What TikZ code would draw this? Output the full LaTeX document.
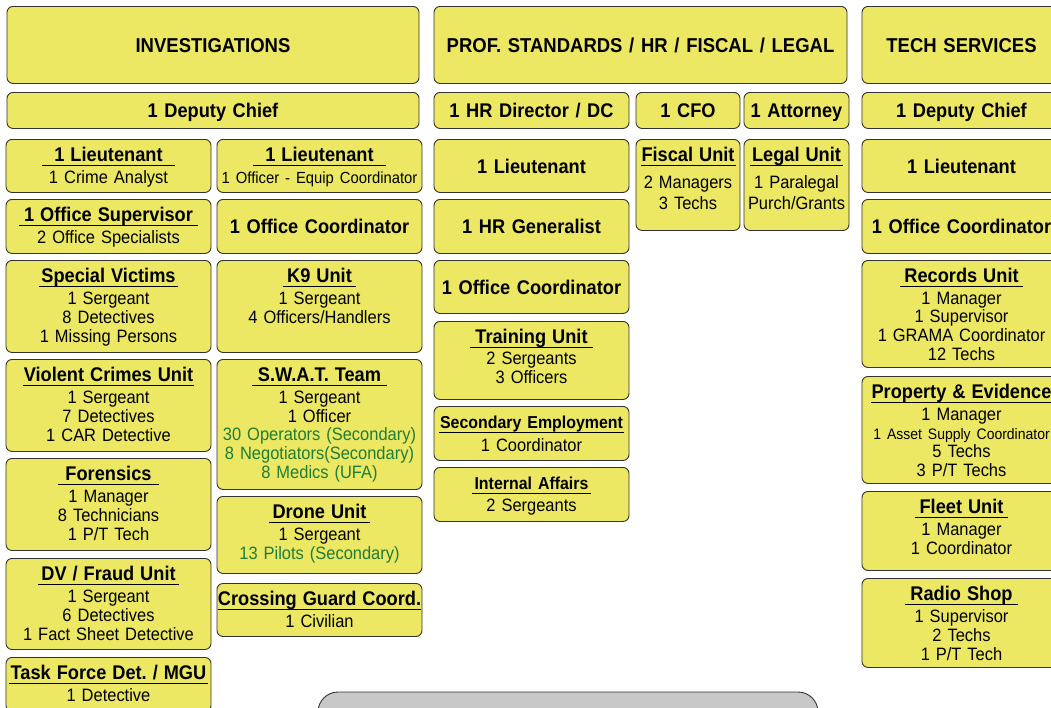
\documentclass[tikz,border=0pt]{standalone}
\usepackage{fontspec}
\setmainfont{Liberation Sans}[FakeStretch=0.92, WordSpace=0.9]

\definecolor{unitfill}{RGB}{236,232,100}
\definecolor{unitline}{RGB}{50,50,50}
\definecolor{unitgreen}{RGB}{30,125,55}
\definecolor{legendfill}{RGB}{200,200,200}

\newcommand{\bodyfont}{\fontsize{17.9}{18.8}\selectfont}
\newcommand{\headfont}{\fontsize{19.8}{20}\selectfont\bfseries}
\newcommand{\titlefont}{\fontsize{20.1}{22}\selectfont\bfseries}
\newcommand{\smallhead}{\fontsize{17.3}{18}\selectfont}
% underlined unit heading, #1 = overhang of the rule
\newcommand{\hdr}[2][2]{\leavevmode\setbox0\hbox{\hspace{#1pt}\headfont #2\hspace{#1pt}}%
  \rlap{\raisebox{-5pt}{\rule{\wd0}{1.8pt}}}\box0}

\tikzset{
  unit/.style={draw=unitline, fill=unitfill, line width=0.9pt, rounded corners=6pt,
    inner xsep=0pt, inner ysep=0pt, align=center, anchor=north, font=\bodyfont},
  deptbox/.style 2 args={unit, text width=#1pt, minimum height=#2pt, font=\titlefont,
    text height=14.4pt, text depth=0pt},
  postbox/.style 2 args={unit, text width=#1pt, minimum height=#2pt, font=\headfont,
    text height=14.2pt, text depth=0pt},
  unitbox/.style 2 args={unit, text width=#1pt, text height=22pt,
    /utils/exec={\pgfmathsetmacro\unitdp{#2-22}}, text depth=\unitdp pt},
}

\begin{document}
\frenchspacing
\begin{tikzpicture}[x=1pt, y=-1pt]
    \useasboundingbox (0,0) rectangle (1051,707);
    \fill[white] (0,0) rectangle (1051,707);
    \clip (0,0) rectangle (1051,707);

    % Divisions
    \node[deptbox={412}{77}] (inv) at (213,6) {INVESTIGATIONS};
    \node[deptbox={413}{77}] (prof) at (640.5,6) {PROF. STANDARDS / HR / FISCAL / LEGAL};
    \node[deptbox={199}{77}] (tech) at (961.5,6) {TECH SERVICES};

    % Command staff
    \node[postbox={412}{36}] (invdc) at (213,92) {1 Deputy Chief};
    \node[postbox={195}{36}] (hrdc) at (531.5,92) {1 HR Director / DC};
    \node[postbox={104}{36}] (cfo) at (688,92) {1 CFO};
    \node[postbox={105}{36}] (atty) at (796.5,92) {1 Attorney};
    \node[postbox={199}{36}] (techdc) at (961.5,92) {1 Deputy Chief};

    % Investigations units
    \node[unitbox={205}{53}] (invltA) at (108.5,139) {\hdr[12]{1 Lieutenant}\\[3.7pt]1 Crime Analyst};
    \node[unitbox={205}{53}] (invltB) at (319.5,139)
        {\hdr[12]{1 Lieutenant}\\[3.7pt]\mbox{\fontsize{16.1}{18.8}\selectfont 1 Officer - Equip Coordinator}};
    \node[unitbox={205}{54}] (offsup) at (108.5,199) {\hdr[5]{1 Office Supervisor}\\[3.7pt]2 Office Specialists};
    \node[postbox={205}{54}] (invoc) at (319.5,199) {1 Office Coordinator};
    \node[unitbox={205}{92}] (svu) at (108.5,260)
        {\hdr{Special Victims}\\[3.7pt]1 Sergeant\\8 Detectives\\1 Missing Persons};
    \node[unitbox={205}{92}] (k9) at (319.5,260) {\hdr[4.5]{K9 Unit}\\[3.7pt]1 Sergeant\\4 Officers/Handlers};
    \node[unitbox={205}{92}] (vcu) at (108.5,359)
        {\hdr[1]{Violent Crimes Unit}\\[3.7pt]1 Sergeant\\7 Detectives\\1 CAR Detective};
    \node[unitbox={205}{130}] (swat) at (319.5,359)
        {\hdr[6]{S.W.A.T. Team}\\[3pt]1 Sergeant\\1 Officer\\
         \textcolor{unitgreen}{\mbox{30 Operators (Secondary)}}\\
         \textcolor{unitgreen}{\mbox{8 Negotiators(Secondary)}}\\
         \textcolor{unitgreen}{8 Medics (UFA)}};
    \node[unitbox={205}{92}] (forensics) at (108.5,458)
        {\hdr[7]{Forensics}\\[3.7pt]1 Manager\\8 Technicians\\1 P/T Tech};
    \node[unitbox={205}{77}] (drone) at (319.5,496)
        {\hdr[3.5]{Drone Unit}\\[3.7pt]1 Sergeant\\\textcolor{unitgreen}{13 Pilots (Secondary)}};
    \node[unitbox={205}{91}] (dvfraud) at (108.5,558)
        {\hdr[3.7]{DV / Fraud Unit}\\[3.7pt]1 Sergeant\\6 Detectives\\1 Fact Sheet Detective};
    \node[unitbox={205}{53}] (xguard) at (319.5,583) {\hdr[0]{\mbox{Crossing Guard Coord.}}\\[3.7pt]1 Civilian};
    \node[unitbox={205}{54}] (taskforce) at (108.5,657) {\hdr[1.3]{Task Force Det. / MGU}\\[3.7pt]1 Detective};

    % Prof. standards / HR / fiscal / legal units
    \node[postbox={195}{53}] (hrlt) at (531.5,139) {1 Lieutenant};
    \node[unitbox={104}{91}] (fiscal) at (688,139) {\hdr[1]{Fiscal Unit}\\[8pt]2 Managers\\[2.2pt]3 Techs};
    \node[unitbox={105}{91}] (legal) at (796.5,139) {\hdr[1.7]{Legal Unit}\\[8pt]1 Paralegal\\[2.2pt]Purch/Grants};
    \node[postbox={195}{54}] (hrgen) at (531.5,199) {1 HR Generalist};
    \node[postbox={195}{53}] (hroc) at (531.5,260) {1 Office Coordinator};
    \node[unitbox={195}{78}] (training) at (531.5,321) {\hdr[5]{Training Unit}\\[2.6pt]2 Sergeants\\3 Officers};
    \node[unitbox={195}{54}] (secemp) at (531.5,406) {\hdr[1]{\smallhead Secondary Employment}\\[3.8pt]1 Coordinator};
    \node[unitbox={195}{54}] (intaff) at (531.5,467) {\hdr[3]{\smallhead Internal Affairs}\\[2.8pt]2 Sergeants};

    % Tech services units
    \node[postbox={199}{53}] (techlt) at (961.5,139) {1 Lieutenant};
    \node[postbox={199}{54}] (techoc) at (961.5,199) {1 Office Coordinator};
    \node[unitbox={199}{107}] (records) at (961.5,260)
        {\hdr[4]{Records Unit}\\[2.8pt]1 Manager\\1 Supervisor\\1 GRAMA Coordinator\\12 Techs};
    \node[unitbox={199}{107}] (property) at (961.5,376)
        {\hdr[0.5]{\mbox{Property \& Evidence}}\\[3pt]1 Manager\\
         \mbox{\fontsize{15.2}{18.8}\selectfont 1 Asset Supply Coordinator}\\5 Techs\\3 P/T Techs};
    \node[unitbox={199}{79}] (fleet) at (961.5,491) {\hdr[5]{Fleet Unit}\\[3.5pt]1 Manager\\1 Coordinator};
    \node[unitbox={199}{89}] (radio) at (961.5,578)
        {\hdr[5.7]{Radio Shop}\\[3.5pt]1 Supervisor\\2 Techs\\1 P/T Tech};

    % Gray panel at the foot
    \draw[fill=legendfill, draw=unitline, line width=0.9pt, rounded corners=20pt]
        (318,692) rectangle (818,790);
\end{tikzpicture}
\end{document}
